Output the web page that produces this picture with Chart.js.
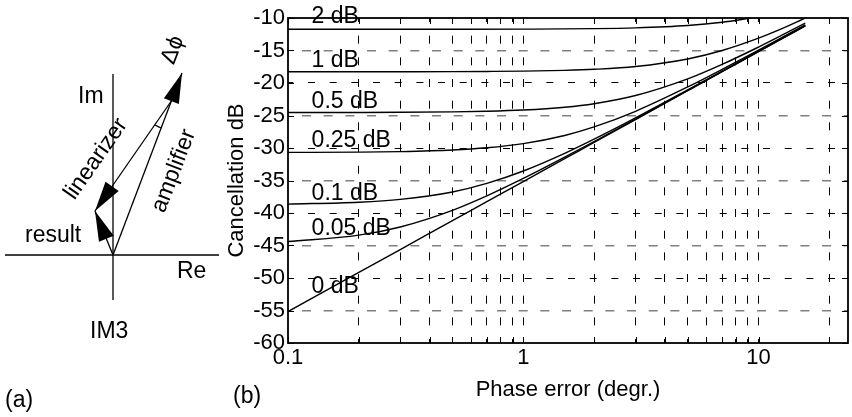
<!DOCTYPE html>
<html>
<head>
<meta charset="utf-8">
<script src="https://cdn.jsdelivr.net/npm/chart.js@4.4.0/dist/chart.umd.min.js"></script>
<style>
  body { margin: 0; background: #fff; }
  #wrap { position: relative; width: 852px; height: 417px; }
  canvas { position: absolute; top: 0; }
  #cancelChart { left: 0; }
  #vectorChart { left: 0; }
</style>
</head>
<body>
<div id="wrap">
  <canvas id="cancelChart" width="852" height="417"></canvas>
  <canvas id="vectorChart" width="222" height="417"></canvas>
</div>
<script>
// phase error (degrees) at which the curves were read
const phaseDeg = [0.1, 0.2, 0.3, 0.5, 0.7, 1, 1.5, 2, 3, 5, 7, 10, 12, 15.8];
const phaseDeg2dB = [0.1, 0.5, 1, 2, 3, 5, 7, 9.3];

// cancellation (dB) for each gain error
const cancel0dB = [-55.16, -49.14, -45.62, -41.18, -38.26, -35.16, -31.64, -29.14, -25.62, -21.19, -18.27, -15.17, -13.6, -11.22];
const cancel005dB = [-44.39, -43.41, -42.15, -39.59, -37.37, -34.69, -31.41, -29.0, -25.54, -21.14, -18.23, -15.14, -13.57, -11.19];
const cancel01dB = [-38.63, -38.34, -37.91, -36.76, -35.45, -33.54, -30.82, -28.64, -25.37, -21.06, -18.18, -15.11, -13.53, -11.16];
const cancel025dB = [-30.68, -30.63, -30.55, -30.31, -29.97, -29.33, -28.07, -26.76, -24.35, -20.61, -17.91, -14.93, -13.39, -11.04];
const cancel05dB = [-24.54, -24.53, -24.51, -24.44, -24.35, -24.16, -23.73, -23.19, -21.93, -19.37, -17.14, -14.47, -13.03, -10.78];
const cancel1dB = [-18.27, -18.27, -18.26, -18.25, -18.22, -18.17, -18.05, -17.89, -17.46, -16.3, -15.0, -13.1, -11.94, -10.01];
const cancel2dB = [-11.74, -11.73, -11.71, -11.64, -11.52, -11.16, -10.66, -10.0];

const curveNames = ["0 dB", "0.05 dB", "0.1 dB", "0.25 dB", "0.5 dB", "1 dB", "2 dB"];
// where each curve name sits (phase, dB of the text baseline)
const labelPhase = 0.126;
const labelLevels = [-52.3, -43.4, -38.0, -29.85, -23.85, -17.54, -10.77];

// axes
const xTickValues = [0.1, 0.2, 0.3, 0.4, 0.5, 0.6, 0.7, 0.8, 0.9, 1, 2, 3, 4, 5, 6, 7, 8, 9, 10, 20];
const xTickLabels = [0.1, 1, 10];
const xMin = 0.1, xMax = 24;
const yMin = -60, yMax = -10, yStep = 5;

// vector diagram (a), in pixels from the origin
const reAxis = [[-108, 0], [106, 0]];
const imAxis = [[0, -45], [0, 181]];
const amplifierVec = [[0, 0], [69, 182]];
const linearizerVec = [[59, 155], [-18, 44]];
const resultVec = [[0, 0], [-18, 44]];

const fontFamily = "'Liberation Sans', Arial, Helvetica, sans-serif";
const textFont = "23px " + fontFamily;

Chart.defaults.font.family = fontFamily;
Chart.defaults.color = "#000";

const toPoints = (xs, ys) => xs.map((x, i) => ({ x: x, y: ys[i] }));
const curveSeries = [
  toPoints(phaseDeg, cancel0dB),
  toPoints(phaseDeg, cancel005dB),
  toPoints(phaseDeg, cancel01dB),
  toPoints(phaseDeg, cancel025dB),
  toPoints(phaseDeg, cancel05dB),
  toPoints(phaseDeg, cancel1dB),
  toPoints(phaseDeg2dB, cancel2dB),
];

function drawText(ctx, text, x, y, angle, align, baseline) {
  ctx.save();
  ctx.translate(x, y);
  if (angle) ctx.rotate((angle * Math.PI) / 180);
  ctx.font = textFont;
  ctx.fillStyle = "#000";
  ctx.textAlign = align || "left";
  ctx.textBaseline = baseline || "alphabetic";
  ctx.fillText(text, 0, 0);
  ctx.restore();
}

const curveLabelPlugin = {
  id: "curveLabels",
  afterDatasetsDraw(chart) {
    const { ctx, scales } = chart;
    curveNames.forEach((name, i) => {
      drawText(ctx, name, scales.x.getPixelForValue(labelPhase), scales.y.getPixelForValue(labelLevels[i]));
    });
    drawText(ctx, "(b)", 233, 403);
  },
};

// box round the plot with inward ticks on all four sides
const framePlugin = {
  id: "frame",
  afterDraw(chart) {
    const { ctx, chartArea: a, scales } = chart;
    const len = 6;
    ctx.save();
    ctx.strokeStyle = "#000";
    ctx.lineWidth = 1;
    ctx.beginPath();
    scales.x.ticks.forEach((t) => {
      const px = Math.round(scales.x.getPixelForValue(t.value)) + 0.5;
      ctx.moveTo(px, a.top); ctx.lineTo(px, a.top + len);
      ctx.moveTo(px, a.bottom); ctx.lineTo(px, a.bottom - len);
    });
    scales.y.ticks.forEach((t) => {
      const py = Math.round(scales.y.getPixelForValue(t.value)) + 0.5;
      ctx.moveTo(a.left, py); ctx.lineTo(a.left + len, py);
      ctx.moveTo(a.right, py); ctx.lineTo(a.right - len, py);
    });
    ctx.stroke();
    ctx.lineWidth = 1.8;
    ctx.strokeRect(a.left, a.top, a.right - a.left, a.bottom - a.top);
    ctx.restore();
  },
};

const isEdgeY = (v) => v === yMin || v === yMax;
const isMajorY = (v) => v % 10 === 0;

new Chart(document.getElementById("cancelChart"), {
  type: "line",
  data: {
    datasets: curveSeries.map((pts, i) => ({
      label: curveNames[i],
      data: pts,
      borderColor: "#000",
      borderWidth: 1.4,
      pointRadius: 0,
      fill: false,
      cubicInterpolationMode: "monotone",
    })),
  },
  options: {
    responsive: false,
    animation: false,
    layout: { padding: { left: 224, right: 4, top: 18, bottom: 0 } },
    plugins: { legend: { display: false }, tooltip: { enabled: false } },
    scales: {
      x: {
        type: "logarithmic",
        min: xMin,
        max: xMax,
        afterBuildTicks: (scale) => {
          scale.ticks = xTickValues.map((v) => ({ value: v }));
        },
        afterFit: (scale) => {
          scale.height = 74;
        },
        ticks: {
          autoSkip: false,
          maxRotation: 0,
          padding: 2,
          font: { size: 22 },
          callback: (v) => (xTickLabels.includes(v) ? String(v) : ""),
        },
        grid: {
          drawTicks: false,
          lineWidth: 1,
          color: (c) => (c.tick && (c.tick.value === xMin) ? "rgba(0,0,0,0)" : "#000"),
        },
        border: { display: false, dash: [8, 13.67], dashOffset: 4 },
        title: {
          display: true,
          text: "Phase error (degr.)",
          font: { size: 22 },
          padding: { top: 0, bottom: 14 },
        },
      },
      y: {
        type: "linear",
        min: yMin,
        max: yMax,
        afterFit: (scale) => {
          scale.width = 64;
        },
        ticks: { stepSize: yStep, padding: 3, font: { size: 22 } },
        grid: {
          drawTicks: false,
          color: (c) => {
            if (!c.tick || isEdgeY(c.tick.value)) return "rgba(0,0,0,0)";
            return isMajorY(c.tick.value) ? "#000" : "#808080";
          },
          lineWidth: (c) => (c.tick && !isMajorY(c.tick.value) ? 1.5 : 1),
        },
        border: {
          display: false,
          dash: (c) => (c.tick && !isMajorY(c.tick.value) ? [9, 12.67] : [7, 14.67]),
          dashOffset: (c) => (c.tick && !isMajorY(c.tick.value) ? 7.67 : 1.67),
        },
        title: {
          display: true,
          text: "Cancellation dB",
          font: { size: 22 },
          padding: 0,
        },
      },
    },
  },
  plugins: [curveLabelPlugin, framePlugin],
});

// ---- (a) vector diagram ----
const seg = (pts) => pts.map((p) => ({ x: p[0], y: p[1] }));
const vectorSets = [
  { data: seg(reAxis), arrow: false },
  { data: seg(imAxis), arrow: false },
  { data: seg(amplifierVec), arrow: true },
  { data: seg(linearizerVec), arrow: true },
  { data: seg(resultVec), arrow: true },
];

const vectorPlugin = {
  id: "vectorDecor",
  afterDatasetsDraw(chart) {
    const { ctx } = chart;
    ctx.save();
    ctx.fillStyle = "#000";
    chart.data.datasets.forEach((ds, i) => {
      if (!ds.arrow) return;
      const pts = chart.getDatasetMeta(i).data;
      const p0 = pts[0], p1 = pts[1];
      const dx = p1.x - p0.x, dy = p1.y - p0.y;
      const l = Math.hypot(dx, dy);
      const ux = dx / l, uy = dy / l;
      const bx = p1.x - ux * 30, by = p1.y - uy * 30;
      ctx.beginPath();
      ctx.moveTo(p1.x, p1.y);
      ctx.lineTo(bx - uy * 8, by + ux * 8);
      ctx.lineTo(bx + uy * 8, by - ux * 8);
      ctx.closePath();
      ctx.fill();
    });
    // angle between amplifier and linearizer
    const amp = chart.getDatasetMeta(2).data;
    const lin = chart.getDatasetMeta(3).data;
    const vx = lin[0].x, vy = lin[0].y;
    const a1 = Math.atan2(amp[0].y - vy, amp[0].x - vx);
    const a2 = Math.atan2(lin[1].y - vy, lin[1].x - vx);
    ctx.strokeStyle = "#000";
    ctx.lineWidth = 1.2;
    ctx.beginPath();
    ctx.arc(vx, vy, 30, a1, a2);
    ctx.stroke();
    ctx.restore();

    drawText(ctx, "Im", 78, 103);
    drawText(ctx, "Re", 177, 278);
    drawText(ctx, "IM3", 90, 338);
    drawText(ctx, "result", 25, 242);
    drawText(ctx, "linearizer", 96, 159, -55, "center", "middle");
    drawText(ctx, "amplifier", 174, 171, -69, "center", "middle");
    drawText(ctx, "Δϕ", 173, 50, -69, "center", "middle");
    drawText(ctx, "(a)", 5, 407);
  },
};

new Chart(document.getElementById("vectorChart"), {
  type: "scatter",
  data: {
    datasets: vectorSets.map((v) => ({
      data: v.data,
      arrow: v.arrow,
      showLine: true,
      borderColor: "#000",
      borderWidth: 1.3,
      pointRadius: 0,
      fill: false,
    })),
  },
  options: {
    responsive: false,
    animation: false,
    layout: { padding: 0 },
    plugins: { legend: { display: false }, tooltip: { enabled: false } },
    scales: {
      x: { type: "linear", display: false, min: -113, max: 109 },
      y: { type: "linear", display: false, min: -162, max: 255 },
    },
  },
  plugins: [vectorPlugin],
});
</script>
</body>
</html>
